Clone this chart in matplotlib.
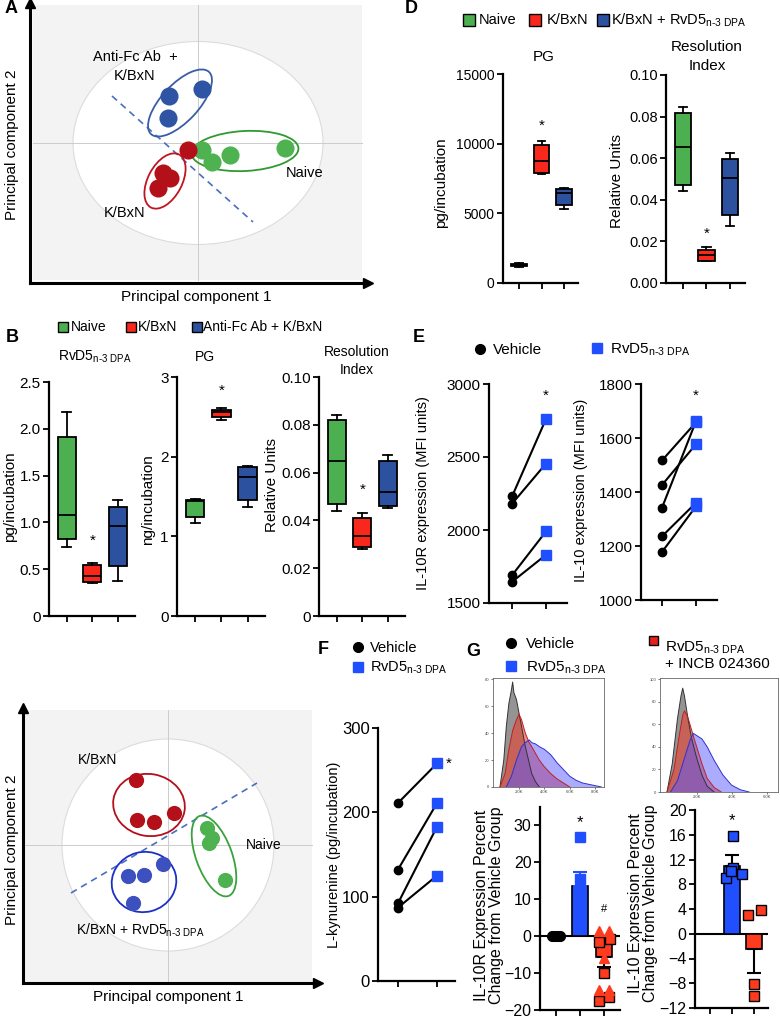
import matplotlib
matplotlib.use('Agg')
import matplotlib.pyplot as plt
from matplotlib.patches import Ellipse, Rectangle

plt.rcParams['font.family'] = ['Liberation Sans', 'DejaVu Sans']
plt.rcParams['mathtext.fontset'] = 'custom'
plt.rcParams['mathtext.rm'] = 'Liberation Sans'
plt.rcParams['mathtext.it'] = 'Liberation Sans'

W, H = 780, 1019
RVD5 = 'RvD5$_{\\mathregular{n\u20103\\ DPA}}$'

GREEN = '#4caf50'
RED = '#f8281c'
NAVY = '#2c519f'
PC_RED = '#b3101a'
PC_BLUE = '#2f54a4'
PC_GREEN = '#4db24f'
BLUE = '#1f4fff'
G_RED = '#ff3b1f'

# ---- A: PCA scores ----
a_naive_pc1 = [0.04, 0.14, 0.32, 0.87]
a_naive_pc2 = [-0.07, -0.19, -0.12, -0.05]
a_kbxn_pc1 = [-0.10, -0.35, -0.28, -0.40]
a_kbxn_pc2 = [-0.07, -0.30, -0.35, -0.45]
a_antifc_pc1 = [-0.29, 0.04, -0.30]
a_antifc_pc2 = [0.47, 0.54, 0.25]

# ---- C: PCA scores ----
c_kbxn_pc1 = [-0.32, -0.31, -0.14, 0.06]
c_kbxn_pc2 = [0.65, 0.25, 0.23, 0.32]
c_naive_pc1 = [0.39, 0.44, 0.41, 0.57]
c_naive_pc2 = [0.17, 0.07, 0.02, -0.35]
c_rvd5_pc1 = [-0.40, -0.24, -0.05, -0.35]
c_rvd5_pc2 = [-0.31, -0.30, -0.19, -0.58]

# ---- B: box stats [whislo, q1, med, q3, whishi] ----
b_rvd5 = [[0.74, 0.82, 1.08, 1.91, 2.18],
          [0.35, 0.36, 0.43, 0.54, 0.57],
          [0.37, 0.53, 0.96, 1.16, 1.24]]
b_pg = [[1.17, 1.24, 1.44, 1.45, 1.47],
        [2.46, 2.50, 2.56, 2.59, 2.61],
        [1.37, 1.45, 1.74, 1.87, 1.88]]
b_res = [[0.044, 0.047, 0.065, 0.082, 0.084],
         [0.028, 0.029, 0.0335, 0.041, 0.043],
         [0.045, 0.046, 0.052, 0.065, 0.0675]]

# ---- D ----
d_pg = [[1180, 1230, 1300, 1380, 1430],
        [7800, 7930, 8770, 9910, 10220],
        [5300, 5610, 6450, 6760, 6850]]
d_res = [[0.0444, 0.0473, 0.0654, 0.0817, 0.0844],
         [0.0108, 0.0108, 0.0135, 0.0159, 0.0175],
         [0.0273, 0.0329, 0.0505, 0.0595, 0.0624]]

# ---- E ----
e_il10r_vehicle = [2230, 2180, 1690, 1645]
e_il10r_rvd5 = [2760, 2455, 1990, 1830]
e_il10_vehicle = [1517, 1426, 1342, 1236, 1178]
e_il10_rvd5 = [1658, 1577, 1662, 1360, 1347]

# ---- F ----
f_vehicle = [211, 132, 92, 87]
f_rvd5 = [258, 211, 183, 125]

# ---- G histograms (x in K units, counts) ----
gl_grey_x = [0.5, 0.8, 1.0, 1.2, 1.4, 1.5, 1.6, 1.8, 2.0, 2.2, 2.5, 2.8, 3.0, 3.3, 3.6]
gl_grey_y = [0, 20, 45, 62, 72, 78, 70, 65, 55, 45, 30, 18, 10, 4, 0]
gl_red_x = [0.5, 0.9, 1.2, 1.5, 1.8, 2.0, 2.2, 2.5, 2.8, 3.0, 3.3, 3.6, 4.0, 4.5, 5.0, 5.5, 6.0]
gl_red_y = [0, 10, 28, 42, 50, 54, 50, 40, 33, 30, 25, 20, 15, 10, 6, 3, 0]
gl_blue_x = [1.0, 1.4, 1.8, 2.2, 2.5, 2.8, 3.0, 3.3, 3.6, 4.0, 4.5, 5.0, 5.5, 6.0, 6.5, 7.0, 7.5, 8.0, 8.5]
gl_blue_y = [0, 8, 20, 30, 33, 35, 33, 32, 30, 28, 24, 18, 13, 8, 5, 3, 2, 1, 0]
gr_grey_x = [0.3, 0.6, 0.9, 1.1, 1.2, 1.3, 1.5, 1.7, 2.0, 2.3, 2.6, 3.0]
gr_grey_y = [0, 25, 65, 85, 92, 85, 65, 48, 30, 15, 5, 0]
gr_red_x = [0.3, 0.7, 1.0, 1.2, 1.3, 1.5, 1.8, 2.0, 2.3, 2.6, 3.0, 3.4]
gr_red_y = [0, 20, 50, 68, 72, 66, 50, 40, 25, 12, 4, 0]
gr_blue_x = [0.5, 0.9, 1.3, 1.6, 1.8, 2.0, 2.3, 2.6, 3.0, 3.5, 4.0, 4.5, 5.0]
gr_blue_y = [0, 10, 30, 45, 52, 50, 47, 40, 28, 15, 6, 2, 0]

# ---- G bars (percent change from vehicle) ----
g1_vehicle = [0, 0, 0, 0, 0]
g1_rvd5 = [26.8, 15.4]
g1_rvd5_mean, g1_rvd5_sem = 13.6, 3.7
g1_inhib_sq = [-1.5, -0.7, -10.0, -17.5, -16.5]
g1_inhib_tri = [1.5, 1.5, -6.0, -14.5, -14.5]
g1_inhib_mean, g1_inhib_sem = -5.7, 2.6
g2_rvd5 = [15.8, 10.6, 9.7, 9.0, 10.2]
g2_rvd5_mean, g2_rvd5_sem = 11.0, 1.7
g2_inhib = [3.1, 3.9, -8.1, -10.0]
g2_inhib_mean, g2_inhib_sem = -2.4, 3.9

fig = plt.figure(figsize=(W / 100, H / 100), dpi=100)
# overlay axes in pixel coordinates for labels and legends
bg = fig.add_axes([0, 0, 1, 1])
bg.set_xlim(0, W)
bg.set_ylim(H, 0)
bg.axis('off')
bg.patch.set_visible(False)
bg.set_zorder(10)


def px_axes(x0, y0, x1, y1):
    return fig.add_axes([x0 / W, 1 - y1 / H, (x1 - x0) / W, (y1 - y0) / H])


def txt(x, y, s, size=10, **kw):
    kw.setdefault('ha', 'center')
    kw.setdefault('va', 'center')
    bg.text(x, y, s, fontsize=size, **kw)


def sq(x, y, color, size=10):
    bg.add_patch(Rectangle((x - size / 2, y - size / 2), size, size,
                           facecolor=color, edgecolor='black', lw=1))


def style(ax, lw=1.6, size=10):
    for s in ['top', 'right']:
        ax.spines[s].set_visible(False)
    for s in ['left', 'bottom']:
        ax.spines[s].set_linewidth(lw)
    ax.tick_params(direction='out', length=4, width=1.3, labelsize=size, pad=2)


# ---------- PCA panels ----------
def pca_axes(box, xlim, ylim, grey, white_wh):
    ax = px_axes(*box)
    ax.set_xlim(xlim)
    ax.set_ylim(ylim)
    for s in ['top', 'right']:
        ax.spines[s].set_visible(False)
    for s in ['left', 'bottom']:
        ax.spines[s].set_linewidth(2.2)
    ax.set_xticks([])
    ax.set_yticks([])
    ax.add_patch(Rectangle((grey[0], grey[2]), grey[1] - grey[0], grey[3] - grey[2],
                           facecolor='#f3f3f3', edgecolor='none', zorder=0))
    ax.add_patch(Ellipse((0, 0), white_wh[0], white_wh[1], facecolor='white',
                         edgecolor='#dcdcdc', lw=0.8, zorder=1))
    ax.plot([grey[0], grey[1]], [0, 0], color='#cccccc', lw=0.7, zorder=2)
    ax.plot([0, 0], [grey[2], grey[3]], color='#cccccc', lw=0.7, zorder=2)
    ax.plot(1, 0, '>k', ms=7, transform=ax.transAxes, clip_on=False)
    ax.plot(0, 1, '^k', ms=7, transform=ax.transAxes, clip_on=False)
    return ax


axA = pca_axes((30, 3, 368, 283), (-1.68, 1.70), (-1.40, 1.40),
               (-1.65, 1.64, -1.37, 1.38), (2.5, 2.03))
axA.plot([-0.86, 0.55], [0.47, -0.79], ls=(0, (4, 3)), color='#4a6fc0', lw=1.2, zorder=3)
for (cx, cy, w, h, ang, col) in [(-0.18, 0.40, 0.85, 0.37, 47, '#3a5ca8'),
                                 (-0.33, -0.38, 0.60, 0.34, 62, '#c0151f'),
                                 (0.47, -0.08, 1.07, 0.40, 3, '#2e9a30')]:
    axA.add_patch(Ellipse((cx, cy), w, h, angle=ang, facecolor='none', edgecolor=col, lw=1.3, zorder=3))
axA.scatter(a_antifc_pc1, a_antifc_pc2, s=170, color=PC_BLUE, zorder=4, lw=0)
axA.scatter(a_naive_pc1, a_naive_pc2, s=170, color=PC_GREEN, zorder=4, lw=0)
axA.scatter(a_kbxn_pc1, a_kbxn_pc2, s=170, color=PC_RED, zorder=5, lw=0)
txt(135, 57, 'Anti-Fc Ab  +', 10.5)
txt(135, 76, 'K/BxN', 10.5)
txt(305, 173, 'Naive', 10.5)
txt(125, 213, 'K/BxN', 10.5)
txt(196, 297, 'Principal component 1', 11)
txt(12, 145, 'Principal component 2', 11, rotation=90)

axC = pca_axes((23, 708, 318, 983), (-1.45, 1.50), (-1.38, 1.37),
               (-1.43, 1.44, -1.37, 1.35), (2.12, 2.12))
axC.plot([-0.97, 0.89], [-0.48, 0.62], ls=(0, (4, 3)), color='#4a6fc0', lw=1.2, zorder=3)
for (cx, cy, w, h, ang, col) in [(-0.19, 0.40, 0.72, 0.62, -10, '#b3101a'),
                                 (-0.24, -0.37, 0.65, 0.60, 15, '#1a2fc8'),
                                 (0.46, -0.11, 0.85, 0.36, 110, '#3aa23c')]:
    axC.add_patch(Ellipse((cx, cy), w, h, angle=ang, facecolor='none', edgecolor=col, lw=1.3, zorder=3))
axC.scatter(c_kbxn_pc1, c_kbxn_pc2, s=120, color=PC_RED, zorder=4, lw=0)
axC.scatter(c_naive_pc1, c_naive_pc2, s=120, color=PC_GREEN, zorder=4, lw=0)
axC.scatter(c_rvd5_pc1, c_rvd5_pc2, s=120, color='#3d50c0', zorder=4, lw=0)
txt(98, 760, 'K/BxN', 10)
txt(264, 845, 'Naive', 10)
txt(76, 930, 'K/BxN + ' + RVD5, 10, ha='left')
txt(168, 997, 'Principal component 1', 11)
txt(12, 850, 'Principal component 2', 11, rotation=90)


# ---------- box plot panels ----------
def box_axes(box, stats, colors, xlim, ylim, yticks, yticklabels, star, size=10):
    ax = px_axes(*box)
    st = [dict(whislo=s[0], q1=s[1], med=s[2], q3=s[3], whishi=s[4]) for s in stats]
    bp = ax.bxp(st, positions=[1, 2, 3], widths=0.7, capwidths=0.35, patch_artist=True,
                showfliers=False,
                boxprops=dict(linewidth=1.3, edgecolor='black'),
                medianprops=dict(color='black', linewidth=1.3),
                whiskerprops=dict(linewidth=1.3), capprops=dict(linewidth=1.3))
    for patch, c in zip(bp['boxes'], colors):
        patch.set_facecolor(c)
    ax.set_xlim(xlim)
    ax.set_ylim(ylim)
    ax.set_xticks([1, 2, 3])
    ax.set_xticklabels([])
    ax.set_yticks(yticks)
    ax.set_yticklabels(yticklabels)
    style(ax, size=size)
    ax.text(2, star, '*', ha='center', va='center', fontsize=11)
    return ax


cols_b = [GREEN, RED, NAVY]
box_axes((49, 382, 135, 616), b_rvd5, cols_b, (0.3, 3.67), (0, 2.5),
         [0, 0.5, 1.0, 1.5, 2.0, 2.5], ['0', '0.5', '1.0', '1.5', '2.0', '2.5'], 0.80, 11)
box_axes((177, 377, 265, 616), b_pg, cols_b, (0.3, 3.67), (0, 3),
         [0, 1, 2, 3], ['0', '1', '2', '3'], 2.83, 11)
box_axes((319, 377, 405, 616), b_res, cols_b, (0.3, 3.67), (0, 0.10),
         [0, 0.02, 0.04, 0.06, 0.08, 0.10], ['0', '0.02', '0.04', '0.06', '0.08', '0.10'], 0.053, 11)
txt(12, 337, 'B', 13, weight='bold')
sq(63, 327, GREEN)
txt(71, 327, 'Naive', 10, ha='left')
sq(131, 327, RED)
txt(138, 327, 'K/BxN', 10, ha='left')
sq(197, 327, NAVY)
txt(203, 327, 'Anti-Fc Ab + K/BxN', 10, ha='left')
txt(58, 357, RVD5, 10, ha='left')
txt(205, 357, 'PG', 10)
txt(357, 352, 'Resolution', 10)
txt(357, 370, 'Index', 10)
txt(10, 497, 'pg/incubation', 11, rotation=90)
txt(148, 500, 'ng/incubation', 11, rotation=90)
txt(272, 485, 'Relative Units', 11, rotation=90)

box_axes((503, 74, 578, 283), d_pg, cols_b, (0.29, 3.62), (0, 15000),
         [0, 5000, 10000, 15000], ['0', '5000', '10000', '15000'], 11300, 10)
box_axes((666, 75, 745, 283), d_res, cols_b, (0.28, 3.64), (0, 0.10),
         [0, 0.02, 0.04, 0.06, 0.08, 0.10], ['0.00', '0.02', '0.04', '0.06', '0.08', '0.10'], 0.0238, 10.5)
txt(411, 8, 'D', 13, weight='bold')
sq(469, 20, GREEN, 12)
txt(479, 20, 'Naive', 10.5, ha='left')
sq(535, 20, RED, 12)
txt(547, 20, 'K/BxN', 10.5, ha='left')
sq(603, 20, NAVY, 12)
txt(611, 20, 'K/BxN + ' + RVD5, 10.5, ha='left')
txt(544, 57, 'PG', 11)
txt(707, 47, 'Resolution', 11)
txt(707, 66, 'Index', 11)
txt(441, 183, 'pg/incubation', 11, rotation=90)
txt(617, 181, 'Relative Units', 11, rotation=90)
txt(11, 8, 'A', 13, weight='bold')


# ---------- paired panels ----------
def paired_axes(box, vehicle, treated, xlim, ylim, yticks, size=11):
    ax = px_axes(*box)
    for v, t in zip(vehicle, treated):
        ax.plot([1, 2], [v, t], color='black', lw=1.5, zorder=2)
    ax.plot([1] * len(vehicle), vehicle, 'o', color='black', ms=6, zorder=3)
    ax.plot([2] * len(treated), treated, 's', color=BLUE, ms=6.5, zorder=3)
    ax.set_xlim(xlim)
    ax.set_ylim(ylim)
    ax.set_xticks([1, 2])
    ax.set_xticklabels([])
    ax.set_yticks(yticks)
    style(ax, size=size)
    return ax


axE1 = paired_axes((489, 384, 567, 603), e_il10r_vehicle, e_il10r_rvd5, (0.32, 2.62),
                   (1500, 3000), [1500, 2000, 2500, 3000])
axE1.text(2, 2916, '*', ha='center', va='center', fontsize=11)
axE2 = paired_axes((641, 384, 717, 600), e_il10_vehicle, e_il10_rvd5, (0.38, 2.62),
                   (1000, 1800), [1000, 1200, 1400, 1600, 1800])
axE2.text(2, 1756, '*', ha='center', va='center', fontsize=11)
txt(419, 337, 'E', 13, weight='bold')
bg.plot(480, 349, 'o', color='black', ms=7)
txt(493, 350, 'Vehicle', 11, ha='left')
bg.plot(597, 348, 's', color=BLUE, ms=7)
txt(610, 350, RVD5, 11, ha='left')
txt(423, 493, 'IL-10R expression (MFI units)', 10.5, rotation=90)
txt(581, 490, 'IL-10 expression (MFI units)', 10.5, rotation=90)

axF = paired_axes((378, 728, 455, 981), f_vehicle, f_rvd5, (0.49, 2.46), (0, 300),
                  [0, 100, 200, 300], 12)
axF.text(2.3, 258, '*', ha='center', va='center', fontsize=11)
txt(323, 650, 'F', 13, weight='bold')
bg.plot(358, 647, 'o', color='black', ms=7)
txt(370, 648, 'Vehicle', 10.5, ha='left')
bg.plot(358, 667, 's', color=BLUE, ms=7)
txt(370, 668, RVD5, 10.5, ha='left')
txt(334, 855, 'L-kynurenine (pg/incubation)', 10.5, rotation=90)


# ---------- G: histograms ----------
def hist_axes(box, xlim, ylim, yticks, xticks, xticklabels, curves):
    ax = px_axes(*box)
    for xs, ys, fc, ec, alpha in curves:
        ax.fill_between(xs, ys, 0, facecolor=fc, alpha=alpha, lw=0)
        ax.plot(xs, ys, color=ec, lw=0.7)
    ax.set_xlim(xlim)
    ax.set_ylim(ylim)
    ax.set_yticks(yticks)
    ax.set_xticks(xticks)
    ax.set_xticklabels(xticklabels)
    ax.tick_params(labelsize=3, length=1.5, width=0.5, pad=1, colors='#444444')
    for s in ax.spines.values():
        s.set_linewidth(0.6)
        s.set_color('#666666')
    return ax


hist_axes((493, 678, 604, 787), (-0.05, 8.7), (0, 81), [0, 20, 40, 60, 80],
          [2, 4, 6, 8], ['2.0K', '4.0K', '6.0K', '8.0K'],
          [(gl_grey_x, gl_grey_y, '#7a7a7a', '#333333', 0.8),
           (gl_red_x, gl_red_y, '#e8412f', '#c02020', 0.6),
           (gl_blue_x, gl_blue_y, '#5a5aff', '#3030d0', 0.5)])
hist_axes((660, 678, 778, 792), (-0.1, 6.65), (0, 101), [0, 20, 40, 60, 80, 100],
          [2, 4, 6], ['2.0K', '4.0K', '6.0K'],
          [(gr_grey_x, gr_grey_y, '#7a7a7a', '#333333', 0.8),
           (gr_red_x, gr_red_y, '#e8412f', '#c02020', 0.6),
           (gr_blue_x, gr_blue_y, '#5a5aff', '#3030d0', 0.5)])
txt(473, 652, 'G', 13, weight='bold')
bg.plot(511, 643, 'o', color='black', ms=7)
txt(526, 644, 'Vehicle', 11, ha='left')
bg.plot(511, 666, 's', color=BLUE, ms=7)
txt(526, 668, RVD5, 11, ha='left')
sq(653, 640, '#e8201a', 9)
txt(665, 648, RVD5, 11, ha='left')
txt(665, 664, '+ INCB 024360', 11, ha='left')


# ---------- G: bar charts ----------
def bar_axes(box, xlim, ylim, yticks):
    ax = px_axes(*box)
    ax.axhline(0, color='black', lw=1.5, zorder=1)
    ax.set_xlim(xlim)
    ax.set_ylim(ylim)
    ax.set_xticks([1, 2, 3])
    ax.set_xticklabels([])
    ax.set_yticks(yticks)
    style(ax, size=11.5)
    return ax


axG1 = bar_axes((540, 807, 620, 1010), (0.33, 3.67), (-20, 35), [-20, -10, 0, 10, 20, 30])
axG1.bar(2, g1_rvd5_mean, width=0.67, color=BLUE, edgecolor='black', lw=1.2, zorder=2)
axG1.errorbar(2, g1_rvd5_mean, yerr=[[0], [g1_rvd5_sem]], color=BLUE, capsize=5, lw=1.5,
              capthick=1.5, zorder=2)
axG1.bar(3, g1_inhib_mean, width=0.67, color=G_RED, edgecolor='black', lw=1.2, zorder=2)
axG1.errorbar(3, g1_inhib_mean, yerr=[[g1_inhib_sem], [0]], color='black', capsize=5, lw=1.5,
              capthick=1.5, zorder=2)
axG1.plot([0.85, 0.93, 1.0, 1.07, 1.15], g1_vehicle, 'o', color='black', ms=7, zorder=3)
axG1.plot([2.0, 2.0], g1_rvd5, 's', color=BLUE, ms=7, zorder=3)
axG1.plot([2.8, 3.25, 3.0, 2.8, 3.2], g1_inhib_sq, 's', color=G_RED, mec='black', mew=1,
          ms=7, zorder=3)
axG1.plot([2.8, 3.22, 3.0, 2.8, 3.2], g1_inhib_tri, '^', color=G_RED, ms=7, zorder=3)
axG1.text(2, 30.8, '*', ha='center', va='center', fontsize=12)
axG1.text(3, 7.3, '#', ha='center', va='center', fontsize=8)

axG2 = bar_axes((695, 810, 768, 1008), (0.32, 3.64), (-12, 20), [-12, -8, -4, 0, 4, 8, 12, 16, 20])
axG2.bar(2, g2_rvd5_mean, width=0.75, color=BLUE, edgecolor='black', lw=1.2, zorder=2)
axG2.errorbar(2, g2_rvd5_mean, yerr=[[0], [g2_rvd5_sem]], color='black', capsize=5, lw=1.5,
              capthick=1.5, zorder=2)
axG2.bar(3, g2_inhib_mean, width=0.75, color=G_RED, edgecolor='black', lw=1.2, zorder=2)
axG2.errorbar(3, g2_inhib_mean, yerr=[[g2_inhib_sem], [0]], color='black', capsize=5, lw=1.5,
              capthick=1.5, zorder=2)
axG2.plot([2.05, 2.05, 2.45, 1.75, 1.95], g2_rvd5, 's', color=BLUE, mec='black', mew=1,
          ms=7.5, zorder=3)
axG2.plot([2.75, 3.3, 3.0, 3.0], g2_inhib, 's', color=G_RED, mec='black', mew=1, ms=7.5, zorder=3)
axG2.text(2, 18.3, '*', ha='center', va='center', fontsize=12)

txt(489, 905, 'IL-10R Expression Percent\nChange from Vehicle Group', 11.5, rotation=90,
    linespacing=1.05)
txt(643, 903, 'IL-10 Expression Percent\nChange from Vehicle Group', 11.5, rotation=90,
    linespacing=1.05)

fig.savefig('out.png', dpi=100)
